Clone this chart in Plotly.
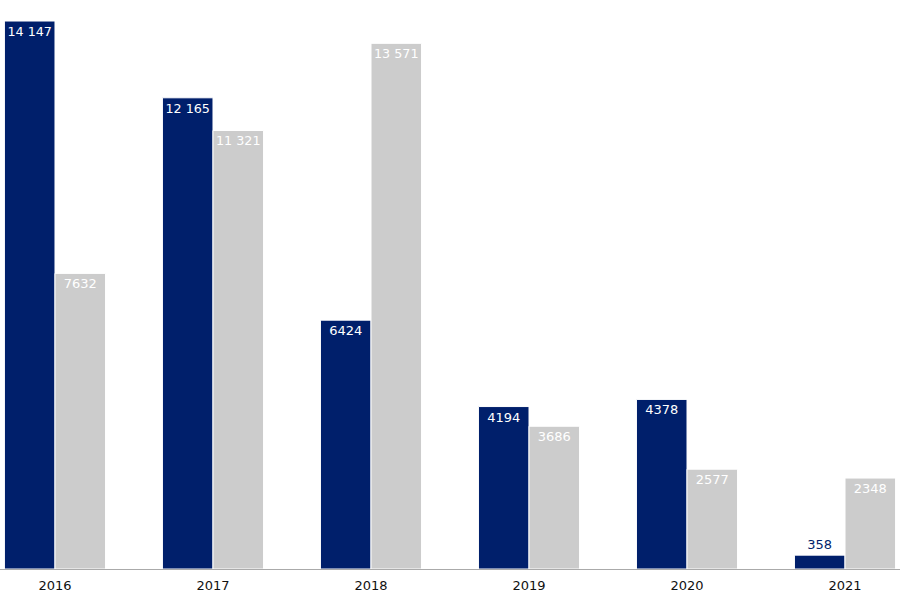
import plotly.graph_objects as go

years = ["2016", "2017", "2018", "2019", "2020", "2021"]
series_a = [14147, 12165, 6424, 4194, 4378, 358]
series_b = [7632, 11321, 13571, 3686, 2577, 2348]

NAVY = "#001f6b"
GRAY = "#cccccc"
FONT = "DejaVu Sans"


def fmt(v):
    return f"{v:,}".replace(",", " ") if v >= 10000 else str(v)


def positions(vals):
    return ["outside" if v < 1000 else "inside" for v in vals]


def add_series(fig, vals, color, outside_color):
    fig.add_trace(go.Bar(
        x=years, y=vals, marker=dict(color=color, line=dict(color="white", width=1)),
        text=[fmt(v) for v in vals], textposition=positions(vals),
        insidetextanchor="end", textangle=0,
        insidetextfont=dict(color="white", size=13, family=FONT),
        outsidetextfont=dict(color=outside_color, size=13, family=FONT),
        cliponaxis=False, hoverinfo="skip",
    ))


fig = go.Figure()
add_series(fig, series_a, NAVY, NAVY)
add_series(fig, series_b, GRAY, GRAY)

fig.update_layout(
    width=900, height=600,
    margin=dict(l=0, r=0, t=0, b=31),
    paper_bgcolor="white", plot_bgcolor="white",
    barmode="group", bargap=0.36, bargroupgap=0,
    showlegend=False,
    font=dict(family=FONT, size=13, color="#111111"),
)
fig.update_xaxes(
    type="category", range=[-0.348, 5.348],
    showline=True, linecolor="#aaaaaa", linewidth=1,
    showgrid=False, ticks="", ticklabelstandoff=4,
    tickfont=dict(size=13, color="#111111"),
)
fig.update_yaxes(
    range=[0, 14690], visible=False, showgrid=False, zeroline=False,
)

fig.write_html("out.html")
